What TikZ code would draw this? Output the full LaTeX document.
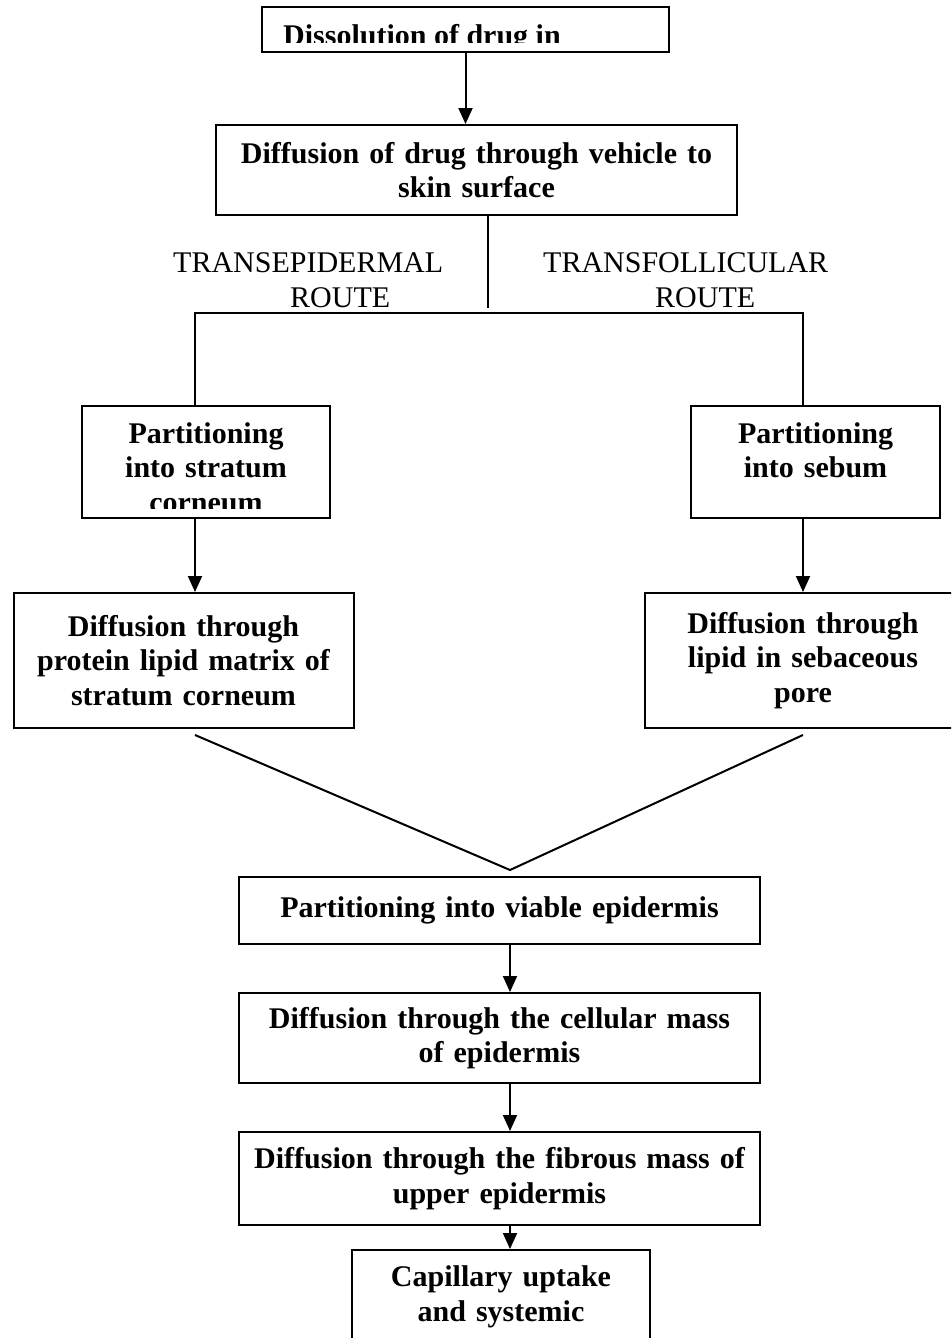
\documentclass[tikz,border=0pt]{standalone}
\usepackage{fontspec}
\setmainfont{Liberation Serif}
\usepackage{tikz}
\usetikzlibrary{arrows.meta,positioning,calc}
\tikzset{
    box/.style={rectangle, draw=black, line width=2pt, inner sep=0pt, align=center, font=\bfseries\fontsize{30}{34.5}\selectfont},
    boxtext/.style={inner sep=0pt, align=center, font=\bfseries\fontsize{30}{34.5}\selectfont},
    link/.style={line width=2pt, black},
    flow/.style={line width=2pt, black, -{Triangle[width=14pt,length=16pt]}},
    route/.style={inner sep=0pt, anchor=base west, font=\fontsize{30}{34.5}\selectfont},
}

\begin{document}
\begin{tikzpicture}[x=1pt,y=-1pt]
    \useasboundingbox (0,0) rectangle (951,1338);
    \clip (0,0) rectangle (951,1338);

    % Top boxes
    \node[box, minimum width=407pt, minimum height=45pt] (dissolution) at (465.5,30) {};
    \begin{scope}
        \clip (262,7) rectangle (669,43);
        \node[boxtext, anchor=base west] (dissolutiontext) at (283,46) {Dissolution of drug in};
    \end{scope}
    \node[box, minimum width=521pt, minimum height=90pt, text width=505pt] (vehicle) at (476.5,170) {Diffusion of drug through vehicle to\\ skin surface};

    % Route labels
    \node[route] (tepi) at (173,272) {TRANSEPIDERMAL};
    \node[route] (tepiroute) at (290,307) {ROUTE};
    \node[route] (tfol) at (543,272) {TRANSFOLLICULAR};
    \node[route] (tfolroute) at (655,307) {ROUTE};

    % Two routes
    \node[box, minimum width=248pt, minimum height=112pt] (stratum) at (206,462) {};
    \begin{scope}
        \clip (82,406) rectangle (330,508);
        \node[boxtext, text width=240pt, anchor=base] (stratumtext) at (206,443) {Partitioning\\ into stratum\\ corneum};
    \end{scope}
    \node[box, minimum width=249pt, minimum height=112pt] (sebum) at (815.5,462) {};
    \node[boxtext, text width=240pt, anchor=base] (sebumtext) at (815.5,443) {Partitioning\\ into sebum};

    \node[box, minimum width=340pt, minimum height=135pt, text width=330pt] (matrix) at (183.5,660.5) {Diffusion through\\ protein lipid matrix of\\ stratum corneum};
    \node[box, minimum width=316pt, minimum height=135pt, text width=306pt] (pore) at (803,660.5) {Diffusion through\\ lipid in sebaceous\\ pore};

    % Lower boxes
    \node[box, minimum width=521pt, minimum height=67pt, text width=511pt] (viable) at (499.5,910.5) {Partitioning into viable epidermis};
    \node[box, minimum width=521pt, minimum height=90pt, text width=511pt] (cellular) at (499.5,1038) {Diffusion through the cellular mass\\ of epidermis};
    \node[box, minimum width=521pt, minimum height=93pt, text width=511pt] (fibrous) at (499.5,1178.5) {Diffusion through the fibrous mass of\\ upper epidermis};
    \node[box, minimum width=298pt, minimum height=94pt, text width=290pt] (capillary) at (501,1297) {Capillary uptake\\ and systemic};

    % Branch points
    \coordinate (split) at (488,308);
    \coordinate (epiL) at (195,313);
    \coordinate (folR) at (803,313);
    \coordinate (vL) at (195,735);
    \coordinate (vR) at (803,735);
    \coordinate (vtip) at (510,870);

    % Connectors
    \draw[flow] (dissolution.south) -- (dissolution.south |- vehicle.north);
    \draw[link] (split |- vehicle.south) -- (split);
    \draw[link] (epiL |- stratum.north) -- (epiL) -- (folR) -- (folR |- sebum.north);
    \draw[flow] (epiL |- stratum.south) -- (epiL |- matrix.north);
    \draw[flow] (folR |- sebum.south) -- (folR |- pore.north);
    \draw[link] (vL) -- (vtip) -- (vR);
    \draw[flow] (vtip |- viable.south) -- (vtip |- cellular.north);
    \draw[flow] (vtip |- cellular.south) -- (vtip |- fibrous.north);
    \draw[flow] (vtip |- fibrous.south) -- (vtip |- capillary.north);
\end{tikzpicture}
\end{document}
